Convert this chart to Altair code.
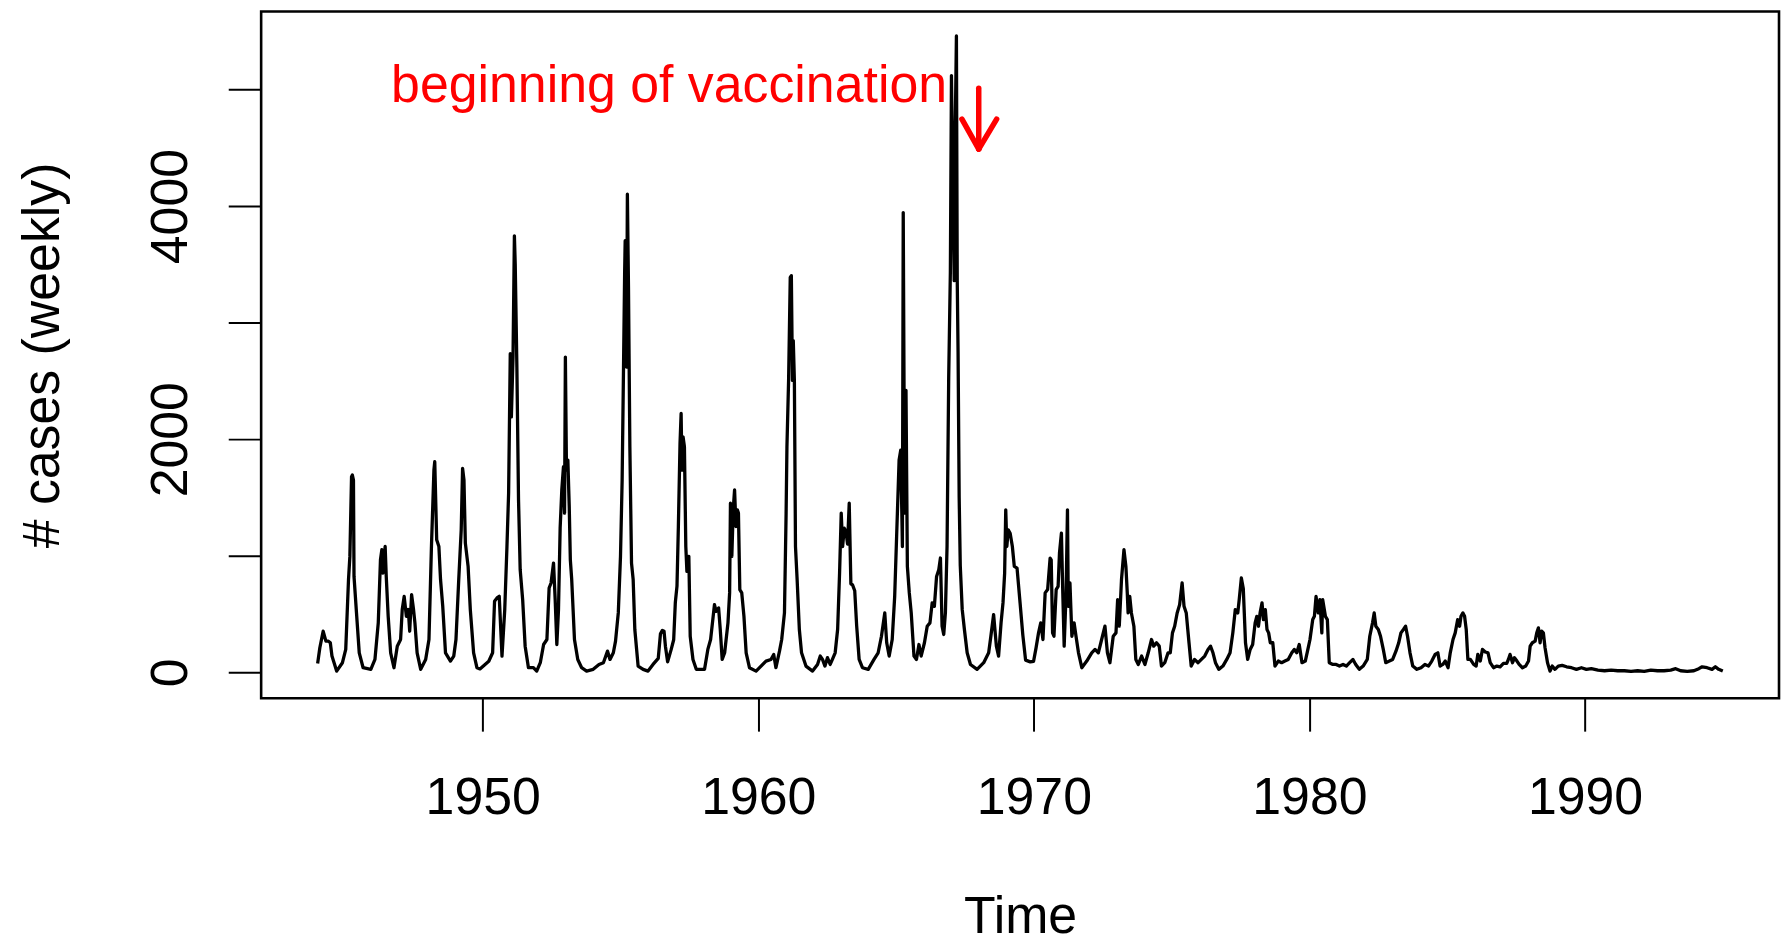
import altair as alt
import pandas as pd

# Weekly measles cases (year, cases)
time = [
    1944.01, 1944.09, 1944.21, 1944.31, 1944.40, 1944.47, 1944.53, 1944.70, 1944.91, 1945.03,
    1945.13, 1945.18, 1945.24, 1945.27, 1945.31, 1945.33, 1945.42, 1945.52, 1945.66, 1945.94,
    1946.09, 1946.21, 1946.29, 1946.34, 1946.38, 1946.46, 1946.50, 1946.57, 1946.66, 1946.78,
    1946.90, 1947.02, 1947.08, 1947.15, 1947.23, 1947.30, 1947.35, 1947.42, 1947.49, 1947.54,
    1947.62, 1947.75, 1947.93, 1948.05, 1948.14, 1948.23, 1948.26, 1948.33, 1948.41, 1948.47,
    1948.55, 1948.65, 1948.83, 1948.95, 1949.03, 1949.13, 1949.22, 1949.27, 1949.32, 1949.37,
    1949.47, 1949.55, 1949.67, 1949.79, 1949.90, 1950.22, 1950.36, 1950.43, 1950.52, 1950.60,
    1950.70, 1950.80, 1950.88, 1950.94, 1951.00, 1951.04, 1951.10, 1951.15, 1951.18, 1951.24,
    1951.30, 1951.36, 1951.45, 1951.54, 1951.66, 1951.84, 1951.96, 1952.09, 1952.21, 1952.33,
    1952.41, 1952.48, 1952.57, 1952.63, 1952.69, 1952.75, 1952.81, 1952.87, 1952.93, 1952.97,
    1953.00, 1953.04, 1953.09, 1953.14, 1953.18, 1953.23, 1953.33, 1953.45, 1953.59, 1953.77,
    1954.01, 1954.22, 1954.38, 1954.53, 1954.62, 1954.74, 1954.82, 1954.92, 1955.00, 1955.06,
    1955.11, 1955.15, 1955.17, 1955.22, 1955.25, 1955.29, 1955.34, 1955.40, 1955.46, 1955.52,
    1955.64, 1955.82, 1956.00, 1956.18, 1956.37, 1956.45, 1956.52, 1956.58, 1956.63, 1956.71,
    1956.84, 1956.93, 1956.99, 1957.05, 1957.10, 1957.16, 1957.20, 1957.23, 1957.27, 1957.32,
    1957.37, 1957.41, 1957.48, 1957.53, 1957.63, 1957.75, 1957.93, 1958.05, 1958.17, 1958.27,
    1958.35, 1958.41, 1958.47, 1958.56, 1958.62, 1958.69, 1958.78, 1958.90, 1958.96, 1958.99,
    1959.04, 1959.09, 1959.14, 1959.19, 1959.24, 1959.28, 1959.33, 1959.40, 1959.48, 1959.56,
    1959.68, 1959.92, 1960.10, 1960.28, 1960.46, 1960.56, 1960.64, 1960.77, 1960.85, 1960.95,
    1961.01, 1961.04, 1961.10, 1961.16, 1961.20, 1961.24, 1961.27, 1961.31, 1961.35, 1961.41,
    1961.49, 1961.57, 1961.73, 1961.97, 1962.15, 1962.25, 1962.33, 1962.42, 1962.51, 1962.61,
    1962.69, 1962.79, 1962.88, 1962.95, 1963.01, 1963.06, 1963.12, 1963.18, 1963.24, 1963.30,
    1963.36, 1963.42, 1963.50, 1963.57, 1963.66, 1963.78, 1963.99, 1964.20, 1964.35, 1964.47,
    1964.59, 1964.66, 1964.75, 1964.86, 1964.95, 1965.02, 1965.11, 1965.17, 1965.23, 1965.26,
    1965.31, 1965.36, 1965.41, 1965.48, 1965.55, 1965.65, 1965.74, 1965.83, 1965.91, 1966.03,
    1966.13, 1966.23, 1966.31, 1966.39, 1966.47, 1966.55, 1966.61, 1966.67, 1966.73, 1966.79,
    1966.85, 1966.91, 1966.97, 1967.01, 1967.06, 1967.11, 1967.15, 1967.19, 1967.22, 1967.25,
    1967.29, 1967.33, 1967.40, 1967.48, 1967.58, 1967.70, 1967.94, 1968.18, 1968.36, 1968.44,
    1968.54, 1968.64, 1968.72, 1968.81, 1968.88, 1968.94, 1968.98, 1969.02, 1969.07, 1969.14,
    1969.22, 1969.29, 1969.39, 1969.50, 1969.60, 1969.70, 1969.87, 1969.99, 1970.08, 1970.17,
    1970.25, 1970.33, 1970.41, 1970.50, 1970.59, 1970.63, 1970.68, 1970.73, 1970.81, 1970.88,
    1970.93, 1971.00, 1971.05, 1971.10, 1971.17, 1971.22, 1971.25, 1971.31, 1971.38, 1971.46,
    1971.53, 1971.62, 1971.74, 1971.92, 1972.10, 1972.22, 1972.34, 1972.46, 1972.58, 1972.67,
    1972.76, 1972.88, 1972.98, 1973.04, 1973.10, 1973.18, 1973.27, 1973.34, 1973.39, 1973.42,
    1973.48, 1973.54, 1973.63, 1973.70, 1973.79, 1973.91, 1974.03, 1974.15, 1974.27, 1974.35,
    1974.45, 1974.55, 1974.63, 1974.75, 1974.87, 1974.95, 1975.03, 1975.11, 1975.20, 1975.29,
    1975.38, 1975.45, 1975.53, 1975.63, 1975.71, 1975.83, 1975.96, 1976.08, 1976.20, 1976.32,
    1976.41, 1976.50, 1976.59, 1976.71, 1976.86, 1977.00, 1977.12, 1977.22, 1977.31, 1977.40,
    1977.45, 1977.53, 1977.60, 1977.68, 1977.76, 1977.85, 1977.94, 1978.03, 1978.09, 1978.15,
    1978.21, 1978.28, 1978.33, 1978.40, 1978.46, 1978.52, 1978.58, 1978.67, 1978.75, 1978.87,
    1978.99, 1979.11, 1979.23, 1979.36, 1979.45, 1979.54, 1979.63, 1979.73, 1979.85, 1979.93,
    1980.02, 1980.12, 1980.18, 1980.24, 1980.32, 1980.38, 1980.45, 1980.48, 1980.58, 1980.65,
    1980.72, 1980.85, 1980.97, 1981.09, 1981.22, 1981.34, 1981.46, 1981.58, 1981.68, 1981.81,
    1981.95, 1982.10, 1982.19, 1982.29, 1982.35, 1982.41, 1982.50, 1982.58, 1982.68, 1982.77,
    1982.90, 1983.02, 1983.14, 1983.24, 1983.32, 1983.41, 1983.49, 1983.56, 1983.65, 1983.75,
    1983.90, 1984.05, 1984.19, 1984.32, 1984.44, 1984.56, 1984.66, 1984.74, 1984.84, 1984.93,
    1985.03, 1985.11, 1985.21, 1985.29, 1985.38, 1985.45, 1985.50, 1985.57, 1985.63, 1985.69,
    1985.75, 1985.84, 1985.96, 1986.05, 1986.11, 1986.20, 1986.28, 1986.38, 1986.48, 1986.56,
    1986.68, 1986.80, 1986.92, 1987.04, 1987.16, 1987.22, 1987.28, 1987.37, 1987.44, 1987.53,
    1987.61, 1987.73, 1987.85, 1987.95, 1988.01, 1988.09, 1988.19, 1988.25, 1988.31, 1988.37,
    1988.43, 1988.49, 1988.55, 1988.64, 1988.73, 1988.81, 1988.91, 1989.03, 1989.17, 1989.33,
    1989.51, 1989.69, 1989.87, 1990.05, 1990.23, 1990.47, 1990.71, 1990.95, 1991.19, 1991.43,
    1991.67, 1991.91, 1992.15, 1992.39, 1992.63, 1992.87, 1993.11, 1993.29, 1993.47, 1993.71,
    1993.95, 1994.13, 1994.25, 1994.43, 1994.61, 1994.73, 1994.85, 1995.00,
]
cases = [
    77, 211, 353, 268, 268, 254, 140, 11, 83, 197,
    795, 995, 1679, 1693, 1650, 823, 510, 168, 40, 26,
    111, 425, 966, 1052, 852, 1080, 823, 481, 168, 40,
    225, 282, 539, 652, 481, 539, 353, 667, 539, 425,
    168, 26, 111, 282, 1080, 1736, 1807, 1137, 1080, 795,
    567, 168, 97, 140, 282, 795, 1223, 1750, 1650, 1109,
    909, 539, 168, 40, 30, 95, 168, 610, 639, 653,
    140, 539, 1080, 1537, 2734, 2192, 2705, 3745, 3503, 2619,
    1479, 881, 624, 225, 40, 40, 11, 83, 239, 282,
    724, 767, 938, 624, 239, 539, 1237, 1565, 1764, 1366,
    2705, 1736, 1821, 1422, 966, 795, 282, 111, 40, 11,
    26, 68, 83, 182, 111, 168, 268, 510, 995, 1650,
    2619, 3418, 3703, 2619, 4102, 3303, 1935, 938, 795, 368,
    54, 26, 11, 68, 120, 330, 360, 353, 225, 90,
    197, 280, 600, 740, 1250, 1964, 2221, 1736, 2021, 1935,
    1080, 866, 995, 310, 111, 26, 26, 26, 197, 282,
    453, 581, 524, 553, 368, 111, 168, 425, 682, 1451,
    995, 1394, 1565, 1251, 1394, 1366, 710, 682, 481, 168,
    40, 11, 54, 97, 111, 154, 40, 182, 282, 510,
    1366, 1935, 2505, 3389, 3403, 2505, 2847, 2505, 1080, 795,
    368, 168, 54, 11, 68, 140, 111, 54, 126, 68,
    111, 168, 370, 852, 1366, 1080, 1237, 1210, 1100, 1451,
    760, 750, 700, 400, 111, 40, 26, 111, 168, 310,
    510, 254, 140, 282, 652, 1166, 1821, 1907, 1080, 3945,
    1366, 2420, 909, 682, 510, 140, 111, 239, 140, 254,
    396, 425, 596, 567, 823, 881, 981, 396, 325, 510,
    1080, 2530, 3430, 5120, 4200, 3360, 4700, 5460, 3360, 2745,
    1500, 915, 540, 368, 168, 68, 26, 83, 168, 310,
    496, 225, 140, 425, 596, 852, 1394, 1080, 1223, 1194,
    1080, 909, 895, 596, 320, 105, 90, 95, 210, 339,
    425, 282, 682, 710, 981, 966, 339, 310, 710, 738,
    1024, 1194, 682, 225, 682, 1394, 567, 767, 310, 425,
    310, 168, 40, 97, 168, 197, 168, 282, 396, 168,
    83, 310, 339, 624, 396, 795, 1052, 909, 682, 510,
    652, 510, 396, 111, 68, 140, 68, 168, 282, 225,
    254, 225, 54, 83, 168, 168, 339, 396, 510, 581,
    767, 567, 510, 254, 54, 111, 83, 111, 140, 197,
    225, 168, 83, 26, 54, 111, 168, 339, 539, 510,
    620, 810, 720, 254, 111, 197, 239, 425, 481, 396,
    510, 596, 453, 539, 368, 339, 254, 254, 54, 97,
    83, 97, 111, 168, 197, 168, 239, 83, 97, 182,
    282, 453, 481, 652, 510, 624, 339, 624, 481, 453,
    83, 68, 68, 54, 68, 54, 83, 111, 68, 26,
    54, 111, 310, 425, 510, 396, 368, 310, 197, 83,
    97, 111, 182, 254, 339, 368, 396, 310, 168, 54,
    26, 40, 68, 54, 97, 154, 168, 54, 68, 97,
    40, 168, 282, 339, 453, 396, 481, 510, 481, 368,
    111, 111, 68, 54, 154, 97, 197, 175, 168, 83,
    40, 54, 48, 77, 77, 111, 154, 83, 126, 97,
    68, 40, 54, 97, 225, 254, 268, 339, 382, 254,
    353, 339, 211, 83, 11, 54, 26, 54, 60, 48,
    40, 26, 40, 26, 32, 20, 14, 20, 14, 14,
    9, 14, 9, 20, 14, 14, 20, 32, 14, 9,
    14, 32, 48, 40, 26, 48, 26, 11,
]

x_ticks = [1950, 1960, 1970, 1980, 1990]
y_ticks = [0, 1000, 2000, 3000, 4000, 5000]

note_text = ["beginning of vaccination"]
note_x = [1966.85]
note_y = [4891]

# arrow: shaft and two head strokes
arrow_x = [1968.0, 1967.39, 1968.65]
arrow_y = [5011, 4746, 4746]
arrow_x2 = [1968.0, 1968.0, 1968.0]
arrow_y2 = [4489, 4489, 4489]

FONT = "Liberation Sans, Arial, Helvetica, sans-serif"
X_DOMAIN = [1941.96, 1997.04]
Y_DOMAIN = [-222, 5669]

x_scale = alt.Scale(domain=X_DOMAIN, nice=False, zero=False)
y_scale = alt.Scale(domain=Y_DOMAIN, nice=False, zero=False)

df = pd.DataFrame({"time": time, "cases": cases})
note_df = pd.DataFrame({"time": note_x, "cases": note_y, "t": note_text})
arrow_df = pd.DataFrame({"time": arrow_x, "cases": arrow_y, "x2": arrow_x2, "y2": arrow_y2})

x_axis = alt.Axis(
    values=x_ticks, format="d", title="Time",
    labelFont=FONT, labelFontSize=52, labelColor="black",
    labelBaseline="alphabetic", labelPadding=83, labelFlush=False, labelOverlap=False,
    tickSize=33, tickWidth=2, tickColor="black", domain=False, grid=False,
    titleFont=FONT, titleFontSize=52, titleFontWeight="normal", titleColor="black",
    titleBaseline="alphabetic", titleAlign="center", titleX=761.5, titleY=235,
)
y_axis = alt.Axis(
    values=y_ticks, format="d", title="# cases (weekly)",
    labelExpr="datum.value % 2000 === 0 ? datum.label : ''",
    labelFont=FONT, labelFontSize=52, labelColor="black",
    labelAngle=270, labelAlign="center", labelBaseline="alphabetic",
    labelPadding=42, labelFlush=False, labelOverlap=False,
    tickSize=33, tickWidth=2, tickColor="black", domain=False, grid=False,
    titleFont=FONT, titleFontSize=52, titleFontWeight="normal", titleColor="black",
    titleAngle=270, titleBaseline="alphabetic", titleAlign="center",
    titleX=-203.5, titleY=344.5,
)

X = alt.X("time:Q", scale=x_scale, axis=x_axis)
Y = alt.Y("cases:Q", scale=y_scale, axis=y_axis)

line = alt.Chart(df).mark_line(
    color="black", strokeWidth=3.3, strokeJoin="round"
).encode(x=X, y=Y)

arrow = alt.Chart(arrow_df).mark_rule(
    color="red", strokeWidth=5.5, strokeCap="round"
).encode(x=X, y=Y, x2="x2:Q", y2="y2:Q")

note = alt.Chart(note_df).mark_text(
    align="right", baseline="alphabetic", color="red", fontSize=52, font=FONT
).encode(x=X, y=Y, text="t:N")

chart = alt.layer(line, arrow, note).properties(
    width=1523,
    height=689,
    autosize=alt.AutoSizeParams(type="none"),
    padding={"left": 254, "top": 2, "right": 2, "bottom": 248},
    background="white",
).configure_view(
    stroke="black", strokeWidth=2.6
)

chart.save("out.html", embed_options={"renderer": "svg", "actions": False})
